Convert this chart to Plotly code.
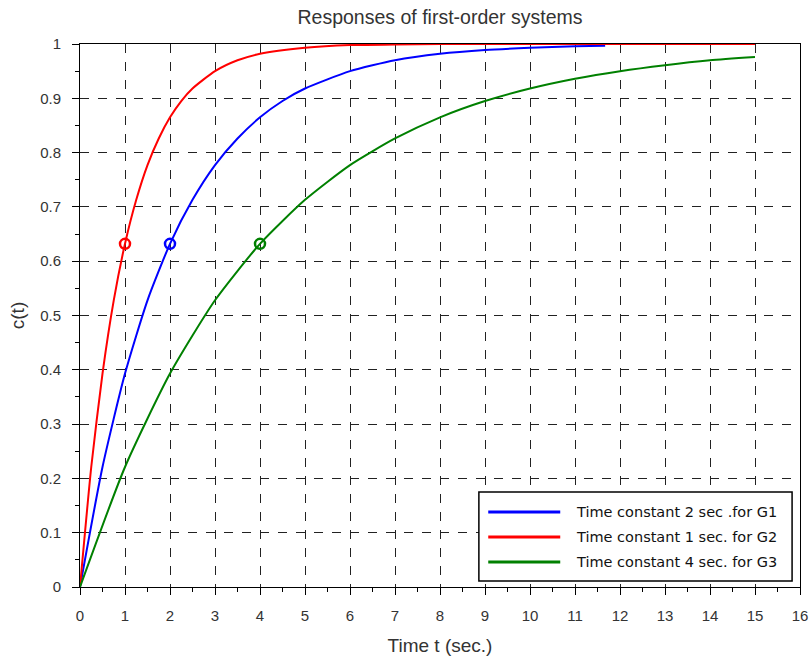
import plotly.graph_objects as go

# ---- data ----
t_g1 = [0, 0.5, 1, 1.5, 2, 2.5, 3, 3.5, 4, 4.5, 5, 6, 7, 8, 9, 10, 11, 11.67]
c_g1 = [0, 0.221, 0.393, 0.528, 0.632, 0.713, 0.777, 0.826, 0.865, 0.895, 0.918, 0.95, 0.97, 0.982, 0.989, 0.993, 0.996, 0.997]

t_g2 = [0, 0.25, 0.5, 0.75, 1, 1.25, 1.5, 1.75, 2, 2.25, 2.5, 3, 3.5, 4, 5, 6, 7, 8, 10, 12, 15]
c_g2 = [0, 0.221, 0.393, 0.528, 0.632, 0.713, 0.777, 0.826, 0.865, 0.895, 0.918, 0.95, 0.97, 0.982, 0.993, 0.998, 0.999, 1.0, 1.0, 1.0, 1.0]

t_g3 = [0, 1, 2, 3, 4, 5, 6, 7, 8, 9, 10, 11, 12, 13, 14, 15]
c_g3 = [0, 0.221, 0.393, 0.528, 0.632, 0.713, 0.777, 0.826, 0.865, 0.895, 0.918, 0.936, 0.95, 0.961, 0.97, 0.976]

marker_t = [1, 2, 4]
marker_c = [0.632, 0.632, 0.632]

series_names = ["Time constant 2 sec .for G1", "Time constant 1 sec. for G2", "Time constant 4 sec. for G3"]
series_colors = ["#0000FF", "#FF0000", "#008000"]

x_ticks = list(range(0, 17))
y_ticks = [round(i * 0.1, 1) for i in range(11)]
y_ticklabels = ["0"] + [f"{v:g}" for v in y_ticks[1:-1]] + ["1"]

title_text = "Responses of first-order systems"
x_title = "Time t (sec.)"
y_title = "c(t)"

fig = go.Figure()
for t, c, name, col in zip([t_g1, t_g2, t_g3], [c_g1, c_g2, c_g3], series_names, series_colors):
    fig.add_trace(go.Scatter(x=t, y=c, mode="lines", name=name,
                             line=dict(color=col, width=2, shape="spline", smoothing=0.6),
                             showlegend=False))

marker_colors = [series_colors[1], series_colors[0], series_colors[2]]
fig.add_trace(go.Scatter(x=marker_t, y=marker_c, mode="markers", showlegend=False,
                         marker=dict(symbol="circle-open", size=10,
                                     color=marker_colors,
                                     line=dict(color=marker_colors, width=2.5))))

font_main = "Liberation Sans, Arial, sans-serif"
axis_common = dict(
    showline=True, linecolor="black", linewidth=1, mirror=True,
    showgrid=True, gridcolor="#222222", gridwidth=1, griddash="dash",
    zeroline=False, ticks="outside", ticklen=7, tickcolor="black", tickwidth=1,
    tickfont=dict(family=font_main, size=15, color="#333333"),
    automargin=False,
)

fig.update_xaxes(range=[0, 16], tickvals=x_ticks, ticktext=[str(v) for v in x_ticks],
                 minor=dict(dtick=0.5, tick0=0, ticks="outside", ticklen=4, tickcolor="black", showgrid=False),
                 title=dict(text=x_title, font=dict(family=font_main, size=19, color="#333333"), standoff=15),
                 ticklabelstandoff=8,
                 **axis_common)
fig.update_yaxes(range=[0, 1], tickvals=y_ticks, ticktext=y_ticklabels,
                 minor=dict(dtick=0.05, tick0=0, ticks="outside", ticklen=4, tickcolor="black", showgrid=False),
                 title=dict(text=y_title, font=dict(family=font_main, size=19, color="#333333"), standoff=10),
                 ticklabelstandoff=8,
                 **axis_common)

# legend drawn as a box in the lower right of the plot area
shapes = [dict(type="rect", xref="paper", yref="paper", x0=0.554, x1=0.989, y0=0.011, y1=0.175,
               line=dict(color="black", width=1.5), fillcolor="white", layer="above")]
annotations = []
row_y = [0.138, 0.092, 0.046]
for name, col, yy in zip(series_names, series_colors, row_y):
    shapes.append(dict(type="line", xref="paper", yref="paper", x0=0.567, x1=0.667, y0=yy, y1=yy,
                       line=dict(color=col, width=3), layer="above"))
    annotations.append(dict(xref="paper", yref="paper", x=0.686, y=yy, text=name, showarrow=False,
                            xanchor="left", yanchor="middle",
                            font=dict(family="DejaVu Sans, sans-serif", size=14.5, color="#111111")))

fig.update_layout(
    width=809, height=657,
    margin=dict(l=80, r=9, t=44, b=70),
    paper_bgcolor="white", plot_bgcolor="white",
    title=dict(text=title_text, x=440 / 809, xanchor="center", y=1 - 17 / 657, yanchor="middle",
               font=dict(family=font_main, size=19.5, color="#333333")),
    shapes=shapes, annotations=annotations,
    showlegend=False,
)

# remove the page's default body margin so the figure fills the window exactly
fig.write_html("out.html",
               config={"displayModeBar": False},
               post_script="document.body.style.margin='0';document.documentElement.style.overflow='hidden';")
